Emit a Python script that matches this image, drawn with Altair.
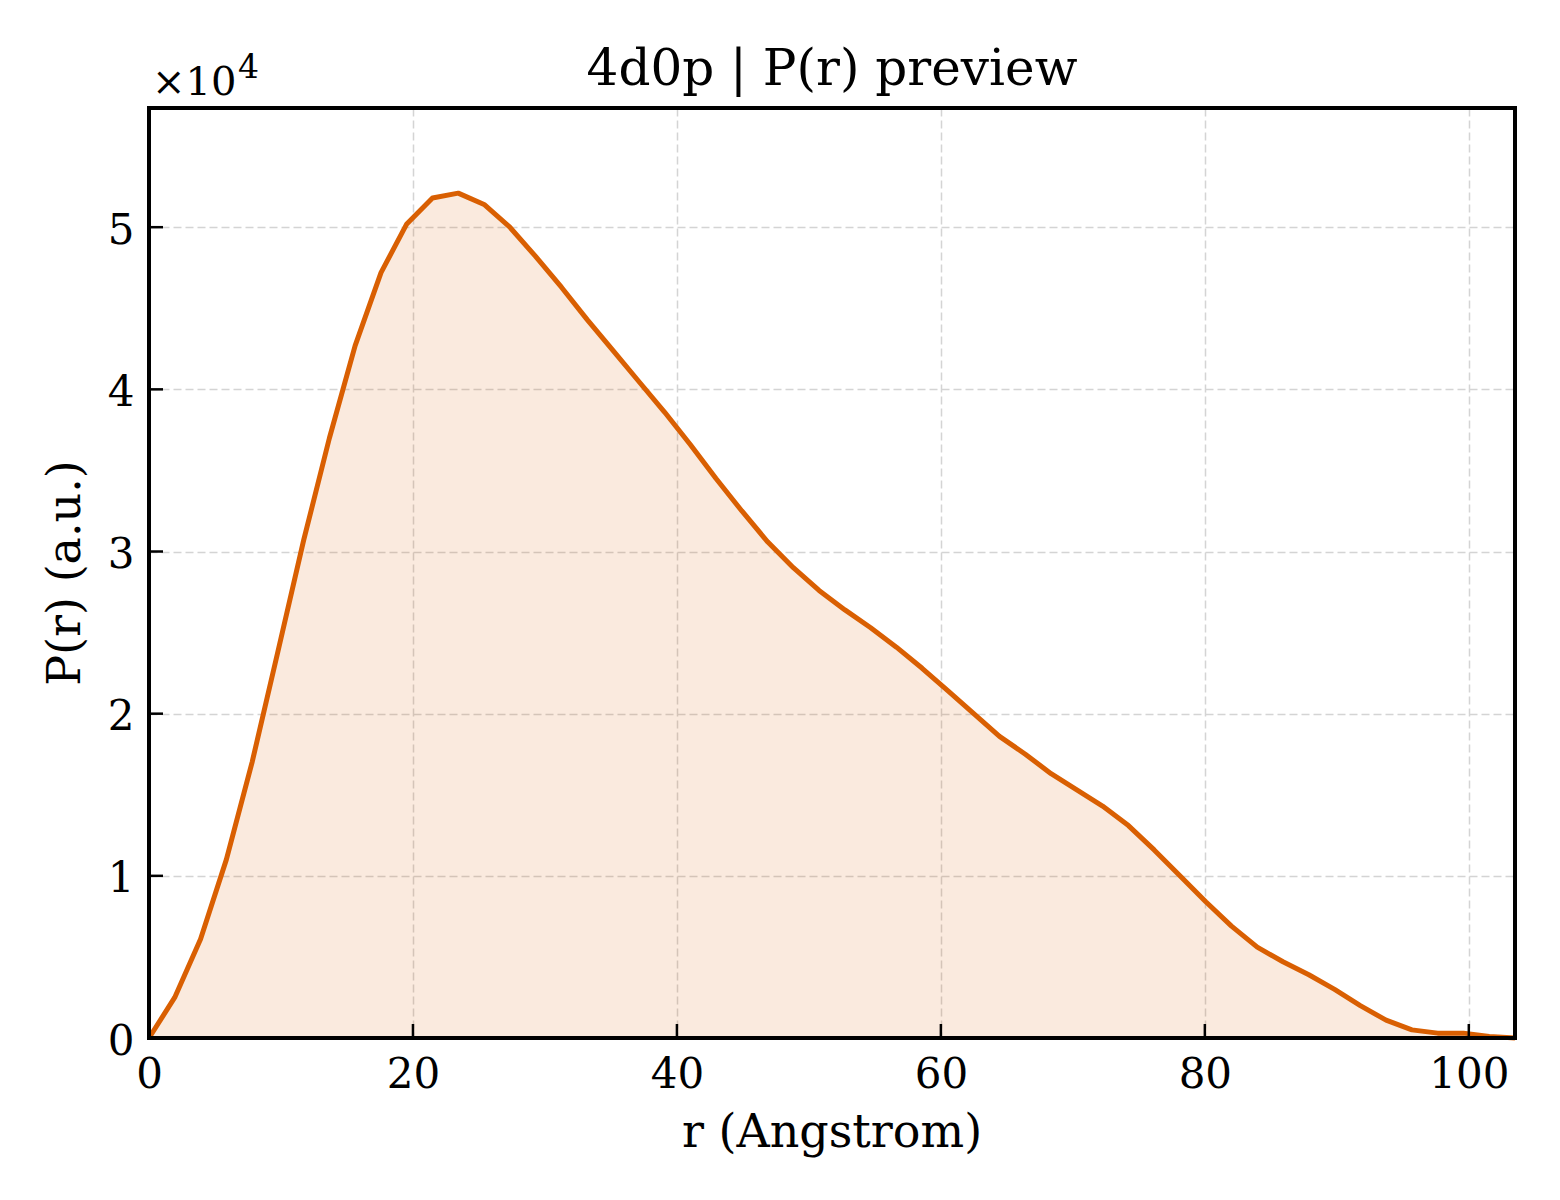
import altair as alt
import pandas as pd

# ---- data (P(r) in units of 1e4) ----
r_values = [0.00, 1.95, 3.91, 5.86, 7.81, 9.76, 11.72, 13.67, 15.62, 17.58,
            19.53, 21.48, 23.43, 25.39, 27.34, 29.29, 31.25, 33.20, 35.15, 37.10,
            39.06, 41.01, 42.96, 44.92, 46.87, 48.82, 50.77, 52.73, 54.68, 56.63,
            58.58, 60.54, 62.49, 64.44, 66.40, 68.35, 70.30, 72.25, 74.21, 76.16,
            78.11, 80.07, 82.02, 83.97, 85.92, 87.88, 89.83, 91.78, 93.73, 95.69,
            97.64, 99.59, 101.55, 103.50]
p_values = [0.00, 0.25, 0.61, 1.10, 1.70, 2.38, 3.07, 3.70, 4.27, 4.72,
            5.02, 5.18, 5.21, 5.14, 5.00, 4.82, 4.63, 4.43, 4.24, 4.05,
            3.86, 3.66, 3.45, 3.25, 3.06, 2.90, 2.76, 2.64, 2.53, 2.41,
            2.28, 2.14, 2.00, 1.86, 1.75, 1.63, 1.53, 1.43, 1.31, 1.16,
            1.00, 0.84, 0.69, 0.56, 0.47, 0.39, 0.30, 0.20, 0.11, 0.05,
            0.03, 0.03, 0.01, 0.00]
x_ticks = [0, 20, 40, 60, 80, 100]
y_ticks = [0, 1, 2, 3, 4, 5]

title_text = "4d0p | P(r) preview"
x_title = "r (Angstrom)"
y_title = "P(r) (a.u.)"
offset_base = "×10"
offset_exp = "4"

W, H = 1366, 930
FONT = "DejaVu Serif"
LINE = "#D95F02"

df = pd.DataFrame({"r": r_values, "p": p_values})
xt = pd.DataFrame({"r": x_ticks})
yt = pd.DataFrame({"p": y_ticks})

x_scale = alt.Scale(domain=[0, 103.5], nice=False, zero=False)
y_scale = alt.Scale(domain=[0, 5.735], nice=False, zero=False)

grid_kw = dict(grid=True, gridColor="#d4d4d4", gridDash=[8, 4], gridWidth=1.5,
               ticks=False, tickSize=0, domain=False, title=None,
               labelFont=FONT, labelColor="black", labelFlush=False,
               labelOverlap=False, format="d")

x_axis = alt.Axis(values=x_ticks, labelFontSize=42, labelAlign="center",
                  labelBaseline="alphabetic", labelPadding=49, **grid_kw)
y_axis = alt.Axis(values=y_ticks, labelFontSize=42, labelAlign="right",
                  labelBaseline="alphabetic", labelPadding=15, labelOffset=16,
                  **grid_kw)

X = alt.X("r:Q", scale=x_scale, axis=x_axis)
Y = alt.Y("p:Q", scale=y_scale, axis=y_axis)

area = alt.Chart(df).mark_area(color=LINE, opacity=0.13, interpolate="linear").encode(x=X, y=Y)
line = alt.Chart(df).mark_line(color=LINE, strokeWidth=5, interpolate="linear",
                               strokeJoin="round").encode(x=X, y=Y)

xtick_rules = alt.Chart(xt).mark_rule(color="black", strokeWidth=2.5).encode(
    x=X, y=alt.value(H), y2=alt.value(H - 14))
ytick_rules = alt.Chart(yt).mark_rule(color="black", strokeWidth=2.5).encode(
    y=Y, x=alt.value(0), x2=alt.value(14))

frame = alt.Chart(pd.DataFrame({"f": [0]})).mark_rect(
    fill=None, fillOpacity=0, stroke="black", strokeWidth=4).encode(
    x=alt.value(0), x2=alt.value(W), y=alt.value(0), y2=alt.value(H))


def label(text, x, y, size, align="center", angle=0):
    kw = dict(font=FONT, fontSize=size, color="black", align=align,
              baseline="alphabetic")
    if angle:
        kw["angle"] = angle
    return alt.Chart(pd.DataFrame({"t": [text]})).mark_text(**kw).encode(
        text="t:N", x=alt.value(x), y=alt.value(y))


title = label(title_text, W / 2, -23, 50)
off_base = label(offset_base, 3, -13, 40, align="left")
off_exp = label(offset_exp, 89, -30, 33, align="left")
xlab = label(x_title, W / 2, H + 109, 46)
ylab = label(y_title, -69, H / 2, 46, angle=270)

chart = alt.layer(area, line, xtick_rules, ytick_rules, frame,
                  title, off_base, off_exp, xlab, ylab).properties(
    width=W, height=H,
    autosize=alt.AutoSizeParams(type="none"),
    padding={"left": 141, "top": 100, "right": 37, "bottom": 154},
    background="white",
).configure_view(stroke=None)

chart.save("out.html", embed_options={"renderer": "svg", "actions": False})
